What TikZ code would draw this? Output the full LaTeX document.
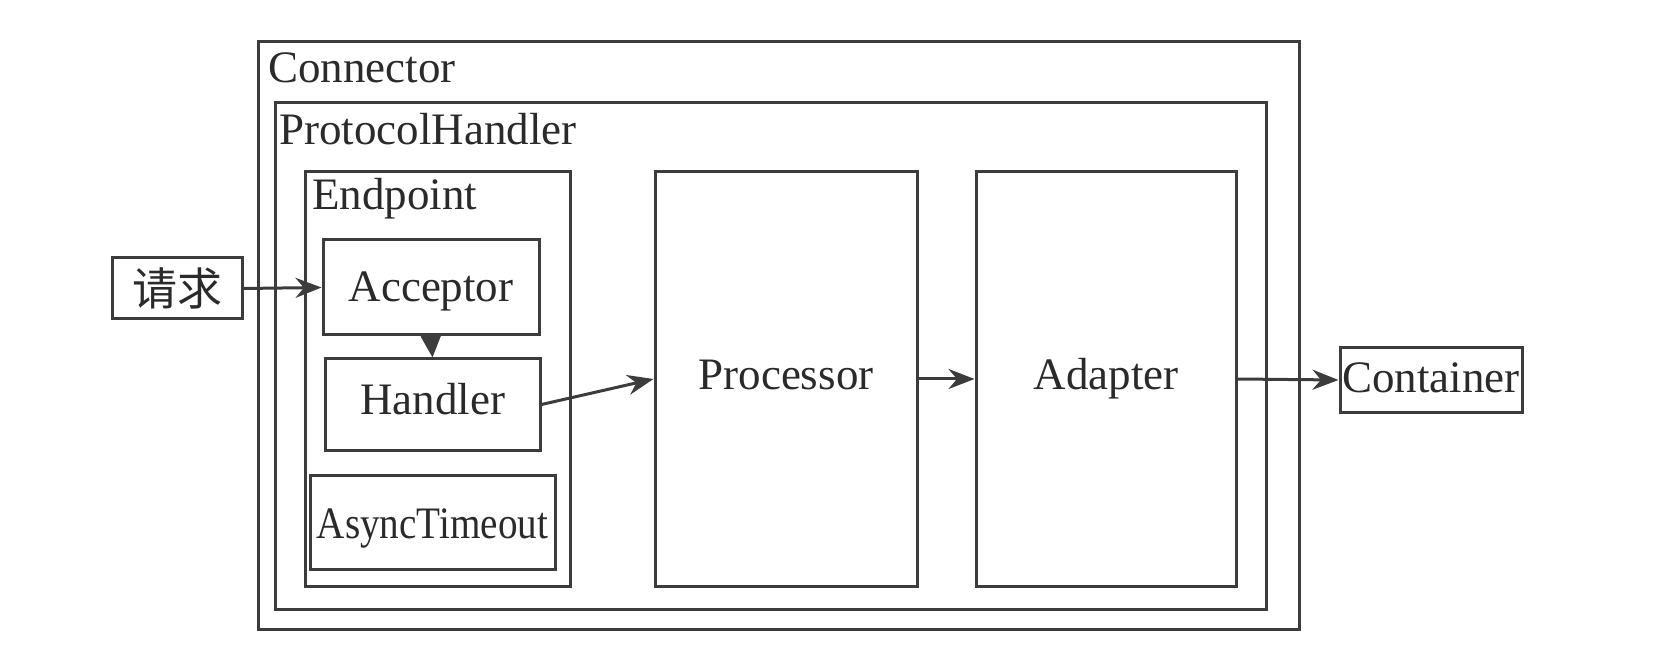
\documentclass[tikz,border=0pt]{standalone}
\usepackage{fontspec}
\usepackage{graphicx}
\setmainfont{Liberation Serif}
\newfontfamily\serifx{Liberation Serif}
\newfontfamily\cjk{Noto Sans CJK SC}
\usetikzlibrary{arrows.meta,fit}
\definecolor{linec}{HTML}{3C3C3C}
\definecolor{textc}{HTML}{2A2A2A}
\begin{document}
\begin{tikzpicture}[x=0.5pt,y=-0.5pt,
  lbl/.style={text=textc, font=\serifx\fontsize{22.5}{27}\selectfont},
  ctr/.style={lbl, text height=15.3pt, text depth=5pt},
  box/.style={draw=linec, line width=1.5pt, inner sep=0pt, lbl},
  ttl/.style={anchor=base west, inner sep=0pt, lbl},
  arr/.style={draw=linec, line width=1.5pt, -{Stealth[length=13pt,width=10pt]}},
  tri/.style={draw=linec, line width=1.5pt, -{Triangle[length=11pt,width=10pt]}}]
\useasboundingbox (0,0) rectangle (1653,662);
% containers
\node[box, fit={(258,42) (1299,629)}] (connector) {};
\node[box, fit={(275,103) (1266,609)}] (protocol) {};
\node[box, fit={(305,172) (570,586)}] (endpoint) {};
\node[ttl] (tconn) at (268,83) {Connector};
\node[ttl] (tprot) at (279,145) {ProtocolHandler};
\node[ttl] (tend) at (312,210) {Endpoint};
% inner boxes
\node[box, fit={(323,240) (539,335)}] (acc) {};
\node[ctr, yshift=-2pt] at (acc.center) {Acceptor};
\node[box, fit={(325,359) (540,450)}] (hdl) {};
\node[ctr] at (hdl.center) {Handler};
\node[box, fit={(310,475) (555,569)}] (async) {};
\node[ctr, yshift=-3pt] at (async.center) {\scalebox{0.87}[1]{AsyncTimeout}};
\node[box, fit={(655,172) (917,586)}] (proc) {};
\node[ctr] at (proc.center) {Processor};
\node[box, fit={(976,172) (1236,586)}] (adp) {};
\node[ctr] at (adp.center) {Adapter};
\node[box, fit={(112,258) (242,319)}] (req) {};
\node[lbl] at (req.center) {\cjk 请求};
\node[box, fit={(1340,348) (1522,412)}] (cont) {};
\node[ctr, yshift=-1pt] at (cont.center) {Container};
% connectors
\draw[arr] (req.east) -- (acc.west);
\draw[tri] (acc.south) -- (hdl.north);
\draw[arr] (hdl.east) -- (proc.west);
\draw[arr] (proc.east) -- (adp.west);
\draw[arr] (adp.east) -- (cont.west);
\end{tikzpicture}
\end{document}
